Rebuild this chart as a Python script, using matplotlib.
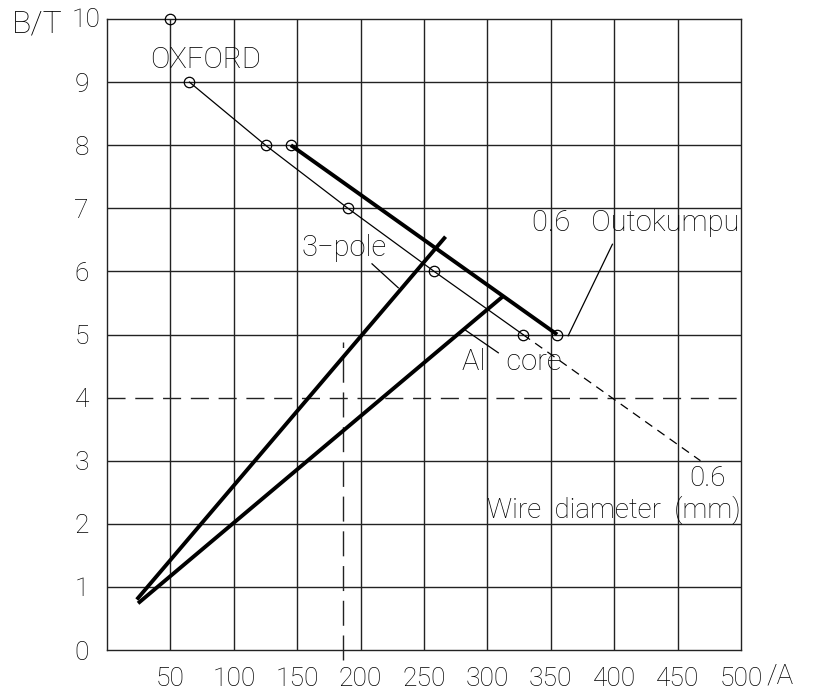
import matplotlib
matplotlib.use("Agg")
import matplotlib.pyplot as plt

# measured points (A, T)
pt_x = [50, 65, 125, 145, 190, 258, 328, 355]
pt_y = [10, 9, 8, 8, 7, 6, 5, 5]

# thin wire-diameter line through the Oxford points
wire_x = [65, 125, 190, 258, 328]
wire_y = [9, 8, 7, 6, 5]
wire_ext_x = [328, 468]
wire_ext_y = [5, 3.0]

# thick load lines
outo_x = [145, 355]
outo_y = [8, 5]
pole_x = [23.5, 267]
pole_y = [0.8, 6.55]
alcore_x = [24.5, 312]
alcore_y = [0.74, 5.6]

# reference dashed lines
h_ref = 4
v_ref_x = 186
v_ref_y = [-0.16, 4.88]

xticks = [50, 100, 150, 200, 250, 300, 350, 400, 450, 500]
yticks = [0, 1, 2, 3, 4, 5, 6, 7, 8, 9]

plt.rcParams['font.family'] = ['Roboto', 'DejaVu Sans']
plt.rcParams['font.weight'] = 'light'
FS = 19
ANN = 21

fig = plt.figure(figsize=(8.22, 6.91), dpi=100)
ax = fig.add_axes([107 / 822, 41 / 691, 634 / 822, 631 / 691])
ax.set_xlim(0, 500)
ax.set_ylim(0, 10)

# grid (the 4 T line is drawn dashed below)
for x in range(50, 500, 50):
    ax.axvline(x, color='#222222', lw=1.0)
for y in range(1, 10):
    if y != h_ref:
        ax.axhline(y, color='#222222', lw=1.0)
for s in ax.spines.values():
    s.set_color('#222222')
    s.set_linewidth(1.0)

ax.set_xticks(xticks)
ax.set_xticklabels([str(v) for v in xticks], fontsize=FS)
ax.set_yticks(yticks)
ax.set_yticklabels([str(v) for v in yticks], fontsize=FS)
ax.tick_params(length=0)
ax.tick_params(axis='x', pad=12)
ax.tick_params(axis='y', pad=13)

# reference lines
ax.axhline(h_ref, color='#222222', lw=1.0, dashes=(13, 7))
ax.plot([v_ref_x, v_ref_x], v_ref_y, color='#222222', lw=1.0,
        dashes=(18, 7), clip_on=False)

# wire line
ax.plot(wire_x, wire_y, color='black', lw=0.9)
ax.plot(wire_ext_x, wire_ext_y, color='black', lw=0.9, dashes=(7, 5))

# thick lines
ax.plot(outo_x, outo_y, color='black', lw=2.8, solid_capstyle='butt')
ax.plot(pole_x, pole_y, color='black', lw=2.8, solid_capstyle='butt')
ax.plot(alcore_x, alcore_y, color='black', lw=2.8, solid_capstyle='butt')

# points
ax.plot(pt_x, pt_y, 'o', mfc='none', mec='black', ms=7.5, mew=0.9,
        clip_on=False, zorder=5)

# leader lines
ax.plot([398.6, 363.7], [6.43, 4.98], color='black', lw=0.9)
ax.plot([209, 229.7], [6.12, 5.74], color='black', lw=0.9)
ax.plot([282.6, 308.6], [5.07, 4.71], color='black', lw=0.9)

# annotations
ax.text(78, 9.35, 'OXFORD', fontsize=ANN, ha='center', va='center')
ax.text(417, 6.77, '0.6   Outokumpu', fontsize=ANN, ha='center',
        va='center')
ax.text(187, 6.37, '3\u2212pole', fontsize=ANN, ha='center', va='center')
ax.text(319, 4.56, 'Al   core', fontsize=ANN, ha='center', va='center')
ax.text(300, 2.22, 'Wire  diameter  (mm)', fontsize=ANN - 1, ha='left',
        va='center')
ax.text(473.7, 2.72, '0.6', fontsize=ANN - 1, ha='center', va='center')

# axis unit labels
fig.text(12 / 822, 1 - 24 / 691, 'B/T', fontsize=23, ha='left',
         va='center')
fig.text(86 / 822, 1 - 20 / 691, '10', fontsize=FS, ha='center',
         va='center')
fig.text(766 / 822, 1 - 676 / 691, '/A', fontsize=20, ha='left',
         va='center')

fig.savefig('out.png', dpi=100)
